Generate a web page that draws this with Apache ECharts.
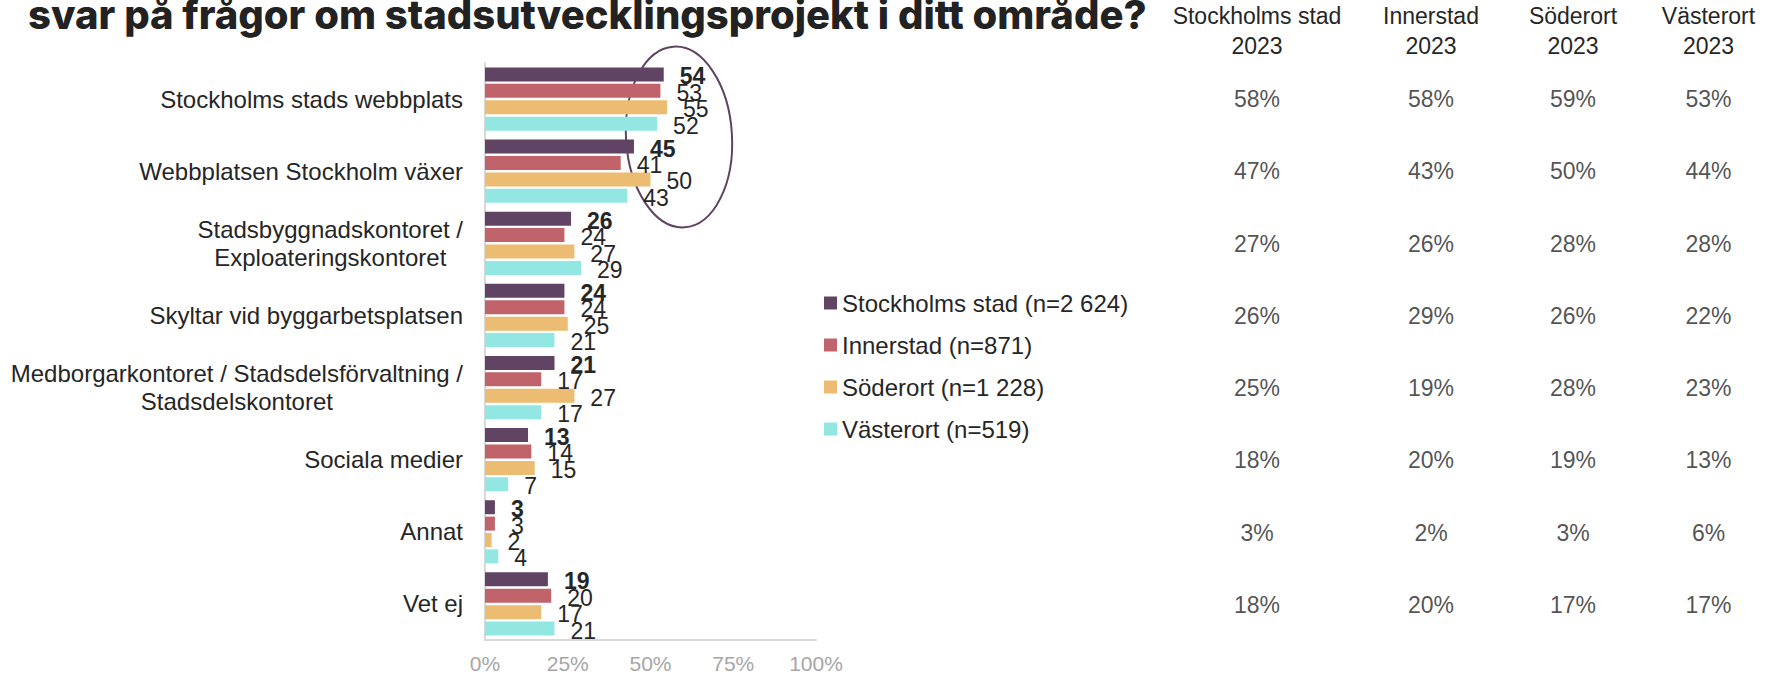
<!DOCTYPE html>
<html>
<head>
<meta charset="utf-8">
<script src="https://cdn.jsdelivr.net/npm/echarts@6/dist/echarts.min.js"></script>
<style>
  html, body { margin: 0; padding: 0; background: #fff; }
  #chart { width: 1783px; height: 674px; }
</style>
</head>
<body>
<div id="chart"></div>
<script>
// data
const categories = [
  'Stockholms stads webbplats',
  'Webbplatsen Stockholm växer',
  'Stadsbyggnadskontoret /\nExploateringskontoret',
  'Skyltar vid byggarbetsplatsen',
  'Medborgarkontoret / Stadsdelsförvaltning /\nStadsdelskontoret',
  'Sociala medier',
  'Annat',
  'Vet ej'
];
const seriesNames = ['Stockholms stad (n=2 624)', 'Innerstad (n=871)', 'Söderort (n=1 228)', 'Västerort (n=519)'];
const stockholm = [54, 45, 26, 24, 21, 13, 3, 19];
const innerstad = [53, 41, 24, 24, 17, 14, 3, 20];
const soderort = [55, 50, 27, 25, 27, 15, 2, 17];
const vasterort = [52, 43, 29, 21, 17, 7, 4, 21];
const xTicks = [0, 25, 50, 75, 100];

const tableHeaders = ['Stockholms stad', 'Innerstad', 'Söderort', 'Västerort'];
const tableYear = '2023';
const tableStockholm = [58, 47, 27, 26, 25, 18, 3, 18];
const tableInnerstad = [58, 43, 26, 29, 19, 20, 2, 20];
const tableSoderort = [59, 50, 28, 26, 28, 19, 3, 17];
const tableVasterort = [53, 44, 28, 22, 23, 13, 6, 17];

const titleText = 'svar på frågor om stadsutvecklingsprojekt i ditt område?';

// styles
const colors = ['#614463', '#c1636b', '#edbc73', '#93e7e2'];
const FONT = '"Liberation Sans", Arial, sans-serif';
const TXT = '#262626';
const plotTop = 63;
const plotBottom = 33;
const colCenters = [1257, 1431, 1573, 1714];

const chart = echarts.init(document.getElementById('chart'), null, { renderer: 'svg' });

const barValues = [stockholm, innerstad, soderort, vasterort];
const tableValues = [tableStockholm, tableInnerstad, tableSoderort, tableVasterort];

const grids = [{ left: 485, width: 331, top: plotTop, bottom: plotBottom }];
const xAxes = [{
  type: 'value', gridIndex: 0, min: 0, max: 100, interval: 25,
  axisLine: { show: true, lineStyle: { color: '#d9d9d9', width: 2 } },
  axisTick: { show: false },
  splitLine: { show: false },
  axisLabel: {
    color: '#a6a6a6', fontSize: 21, fontFamily: FONT, margin: 13,
    formatter: v => (xTicks.includes(v) ? v + '%' : '')
  }
}];
const yAxes = [{
  type: 'category', gridIndex: 0, inverse: true, data: categories,
  axisLine: { show: true, lineStyle: { color: '#d9d9d9', width: 2 } },
  axisTick: { show: false },
  axisLabel: {
    margin: 22, fontSize: 24, fontFamily: FONT, color: TXT,
    formatter: v => v.split('\n').map(l => '{c|' + l + '}').join('\n'),
    rich: { c: { align: 'center', fontSize: 24, fontFamily: FONT, color: TXT, lineHeight: 28 } }
  }
}];

const series = barValues.map((vals, i) => ({
  name: seriesNames[i],
  type: 'bar',
  xAxisIndex: 0, yAxisIndex: 0,
  data: vals,
  barWidth: 14,
  barGap: '17%',
  itemStyle: { color: colors[i] },
  label: {
    show: true, position: 'right', distance: 16, offset: [0, 2],
    fontSize: 23, fontFamily: FONT, color: TXT,
    fontWeight: i === 0 ? 'bold' : 'normal'
  }
}));

// table to the right, one small grid per column
tableHeaders.forEach((h, c) => {
  const gi = c + 1;
  grids.push({ left: colCenters[c] - 80, width: 160, top: plotTop, bottom: plotBottom });
  xAxes.push({
    type: 'category', gridIndex: gi, position: 'top', data: [h + '\n' + tableYear],
    axisLine: { show: false }, axisTick: { show: false },
    axisLabel: { fontSize: 23, fontFamily: FONT, color: TXT, lineHeight: 30, margin: 2, align: 'center' }
  });
  yAxes.push({
    type: 'category', gridIndex: gi, inverse: true, data: categories, show: false
  });
  series.push({
    type: 'scatter',
    xAxisIndex: gi, yAxisIndex: gi,
    symbolSize: 1,
    itemStyle: { color: 'rgba(0,0,0,0)' },
    data: tableValues[c].map((v, r) => [0, r, v]),
    encode: { x: 0, y: 1 },
    label: {
      show: true, position: 'inside',
      fontSize: 23, fontFamily: FONT, color: TXT,
      formatter: p => p.value[2] + '%'
    },
    silent: true
  });
});

chart.setOption({
  animation: false,
  color: colors,
  grid: grids,
  xAxis: xAxes,
  yAxis: yAxes,
  legend: {
    data: seriesNames,
    orient: 'vertical',
    left: 824, top: 291, padding: 0,
    itemWidth: 13, itemHeight: 13, itemGap: 18,
    icon: 'rect',
    textStyle: { fontSize: 24, fontFamily: FONT, color: TXT }
  },
  graphic: [
    {
      type: 'text', left: 28, top: -6,
      style: {
        text: titleText,
        font: '800 40px Inter, "Noto Sans", sans-serif',
        fill: '#222'
      }
    },
    {
      type: 'ellipse', shape: { cx: 0, cy: 0, rx: 53, ry: 90.5 },
      x: 679, y: 137, rotation: 0.06,
      style: { fill: 'none', stroke: '#5f4460', lineWidth: 2 }
    }
  ],
  series: series
});
</script>
</body>
</html>
